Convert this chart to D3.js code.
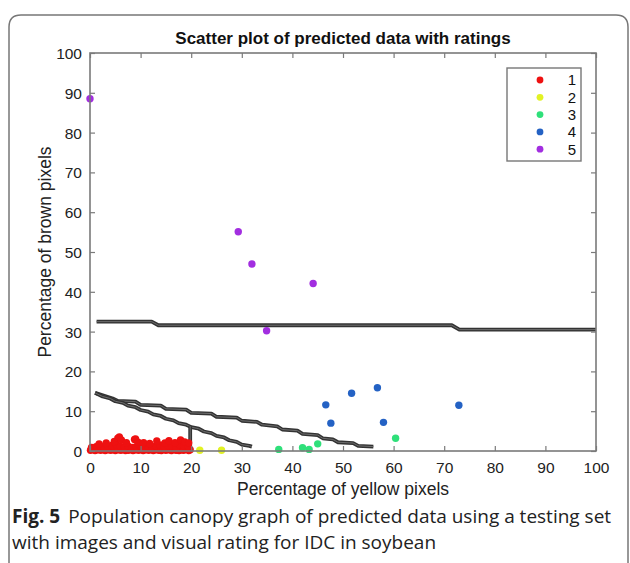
<!DOCTYPE html>
<html lang="en">
<head>
<meta charset="UTF-8">
<title>Scatter plot of predicted data with ratings</title>
<script src="https://d3js.org/d3.v7.min.js"></script>
<style>
  body { margin: 0; background: #fff; }
  svg { display: block; }
  .tick-label { font-family: "Liberation Sans", Arial, sans-serif; font-size: 15.5px; fill: #222; }
  .axis-title { font-family: "Liberation Sans", Arial, sans-serif; font-size: 17.5px; fill: #222; }
  .caption { font-family: "Open Sans", "Noto Sans", sans-serif; font-size: 19px; fill: #222; }
</style>
</head>
<body>
<svg width="630" height="563"></svg>
<script>
// ratings and their colours
const ratings = ["1", "2", "3", "4", "5"];
const ratingColors = ["#ee1111", "#e2f224", "#2fe07a", "#2462c4", "#a22ee0"];

// axis ticks
const xTicks = [0, 10, 20, 30, 40, 50, 60, 70, 80, 90, 100];
const yTicks = [0, 10, 20, 30, 40, 50, 60, 70, 80, 90, 100];

// rating 1 (dense band near the x axis)
const rating1X = [
  0.1, 0.6, 1.0, 1.5, 2.1, 2.6, 3.0, 3.6, 4.1, 4.5, 5.0, 5.6, 6.1, 6.5, 7.0, 7.6, 8.1, 8.5, 9.0, 9.6,
  10.1, 10.5, 11.0, 11.6, 12.1, 12.5, 13.0, 13.6, 14.1, 14.5, 15.0, 15.6, 16.1, 16.5, 17.0, 17.6, 18.1, 18.5, 19.0, 19.5, 19.8,
  0.3, 1.2, 2.0, 2.8, 3.5, 4.3, 5.2, 6.0, 6.8, 7.5, 8.3, 9.1, 9.9, 10.7, 11.4, 12.2, 13.0, 13.8, 14.6, 15.4,
  16.2, 17.0, 17.8, 18.6, 19.4,
  1.8, 3.2, 4.8, 5.5, 5.8, 6.2, 7.2, 8.8, 9.0, 9.5, 10.6, 11.8, 13.2, 14.8, 15.6, 16.8, 17.9, 18.7, 19.5
];
const rating1Y = [
  0.2, 0.4, 0.1, 0.3, 0.2, 0.5, 0.1, 0.3, 0.2, 0.4, 0.1, 0.3, 0.2, 0.5, 0.1, 0.2, 0.4, 0.1, 0.3, 0.2,
  0.4, 0.1, 0.3, 0.2, 0.5, 0.1, 0.3, 0.2, 0.1, 0.4, 0.2, 0.3, 0.1, 0.4, 0.2, 0.1, 0.3, 0.2, 0.4, 0.1, 0.3,
  0.9, 1.1, 1.3, 0.8, 1.2, 1.4, 1.6, 1.2, 1.0, 1.3, 0.9, 1.1, 1.4, 0.8, 1.2, 1.0, 1.3, 1.5, 1.1, 1.4,
  1.2, 0.9, 1.5, 1.3, 1.1,
  1.8, 2.0, 2.4, 3.2, 3.5, 2.8, 2.1, 2.9, 3.0, 2.2, 2.1, 1.9, 2.5, 2.0, 2.6, 2.1, 2.8, 2.3, 2.0
];

const rating2X = [21.7, 26.0];
const rating2Y = [0.2, 0.2];

const rating3X = [37.3, 42.0, 43.3, 45.0, 60.4];
const rating3Y = [0.4, 0.8, 0.4, 1.8, 3.2];

const rating4X = [46.6, 47.6, 51.7, 56.8, 58.0, 72.9];
const rating4Y = [11.6, 7.0, 14.5, 15.9, 7.2, 11.5];

const rating5X = [0.0, 29.3, 32.0, 44.1, 34.9];
const rating5Y = [88.5, 55.1, 47.0, 42.1, 30.2];

// decision boundaries (stepped)
const boundaryTopX = [1.3, 12.2, 13.5, 71.5, 73.0, 100];
const boundaryTopY = [32.5, 32.5, 31.6, 31.6, 30.5, 30.5];

const boundarySteepX = [1, 2.5, 4, 5, 6.5, 7.5, 9, 10, 11.5, 12.5, 14, 15, 16.5, 17.5, 19, 20, 21.5, 22.5, 24, 25, 26.5, 27.5, 29, 30, 31.5, 32];
const boundarySteepY = [14.6, 13.7, 13.2, 12.5, 12.1, 11.4, 11.0, 10.3, 9.9, 9.2, 8.8, 8.1, 7.7, 7.0, 6.6, 6.0, 5.6, 4.9, 4.5, 3.8, 3.4, 2.7, 2.3, 1.6, 1.3, 1.1];

const boundaryLongX = [1, 4.5, 5.5, 9, 10, 14, 15, 19, 20, 24, 25, 29, 30, 33, 34, 37, 38, 41, 42, 45, 46, 48, 49, 52, 53, 56];
const boundaryLongY = [14.6, 13.2, 12.6, 12.4, 11.6, 11.4, 10.6, 10.4, 9.6, 9.4, 8.6, 8.4, 7.6, 7.3, 6.6, 6.2, 5.4, 5.1, 4.3, 4.0, 3.2, 2.9, 2.2, 2.0, 1.3, 1.1];

const boundaryVertX = [19.8, 19.8];
const boundaryVertY = [0, 6.2];

const svg = d3.select("svg");
const margin = { left: 90, right: 34, top: 53, bottom: 112 };
const width = 630 - margin.left - margin.right;
const height = 563 - margin.top - margin.bottom;

const x = d3.scaleLinear().domain([0, 100]).range([margin.left, margin.left + width]);
const y = d3.scaleLinear().domain([0, 100]).range([margin.top + height, margin.top]);

// figure frame
svg.append("path")
    .attr("d", "M 9 600 L 9 27 Q 9 15 21 15 L 616 15 Q 628 15 628 27 L 628 600")
    .attr("fill", "none")
    .attr("stroke", "#777")
    .attr("stroke-width", 1.5);

// boundaries
const boundaries = [
    [boundaryTopX, boundaryTopY],
    [boundaryLongX, boundaryLongY],
    [boundarySteepX, boundarySteepY],
    [boundaryVertX, boundaryVertY]
];
const line = d3.line().x(d => x(d[0])).y(d => y(d[1]));
const gLines = svg.append("g");
boundaries.forEach(([bx, by]) => {
    const pts = bx.map((v, i) => [v, by[i]]);
    gLines.append("path").datum(pts).attr("d", line)
        .attr("fill", "none").attr("stroke", "#333").attr("stroke-width", 3.8)
        .attr("stroke-linejoin", "round");
    gLines.append("path").datum(pts).attr("d", line)
        .attr("fill", "none").attr("stroke", "#6e6e6e").attr("stroke-width", 1)
        .attr("stroke-linejoin", "round");
});

// points
const series = [
    [rating1X, rating1Y],
    [rating2X, rating2Y],
    [rating3X, rating3Y],
    [rating4X, rating4Y],
    [rating5X, rating5Y]
];
const gPts = svg.append("g");
series.forEach(([sx, sy], k) => {
    gPts.selectAll(null)
        .data(sx.map((v, i) => [v, sy[i]]))
        .enter().append("circle")
        .attr("cx", d => x(d[0]))
        .attr("cy", d => y(d[1]))
        .attr("r", 3.7)
        .attr("fill", ratingColors[k]);
});

// axes box, ticks inward on all sides
const axisColor = "#7a7a7a";
svg.append("rect")
    .attr("x", margin.left).attr("y", margin.top)
    .attr("width", width).attr("height", height)
    .attr("fill", "none").attr("stroke", axisColor).attr("stroke-width", 1.6);

const axisB = svg.append("g").attr("transform", `translate(0,${margin.top + height})`)
    .call(d3.axisBottom(x).tickValues(xTicks).tickSizeInner(-5).tickSizeOuter(0).tickPadding(9));
const axisT = svg.append("g").attr("transform", `translate(0,${margin.top})`)
    .call(d3.axisTop(x).tickValues(xTicks).tickSizeInner(-5).tickSizeOuter(0).tickFormat(""));
const axisL = svg.append("g").attr("transform", `translate(${margin.left},0)`)
    .call(d3.axisLeft(y).tickValues(yTicks).tickSizeInner(-5).tickSizeOuter(0).tickPadding(8));
const axisR = svg.append("g").attr("transform", `translate(${margin.left + width},0)`)
    .call(d3.axisRight(y).tickValues(yTicks).tickSizeInner(-5).tickSizeOuter(0).tickFormat(""));

[axisB, axisT, axisL, axisR].forEach(g => {
    g.select(".domain").remove();
    g.selectAll(".tick line").attr("stroke", axisColor).attr("stroke-width", 1.2);
    g.selectAll(".tick text").attr("class", "tick-label").attr("fill", "#222");
});
axisB.selectAll(".tick text").attr("dy", "0.85em");
axisL.selectAll(".tick text").attr("dy", "0.35em");

// title and axis titles
svg.append("text")
    .attr("x", margin.left + width / 2).attr("y", 44)
    .attr("text-anchor", "middle")
    .style("font-family", "'Liberation Sans', Arial, sans-serif")
    .style("font-size", "17px").style("font-weight", "bold").style("fill", "#111")
    .text("Scatter plot of predicted data with ratings");

svg.append("text")
    .attr("class", "axis-title")
    .attr("x", margin.left + width / 2).attr("y", 495)
    .attr("text-anchor", "middle")
    .text("Percentage of yellow pixels");

svg.append("text")
    .attr("class", "axis-title")
    .attr("transform", `translate(51,${margin.top + height / 2}) rotate(-90)`)
    .attr("text-anchor", "middle")
    .text("Percentage of brown pixels");

// legend
const legend = svg.append("g");
legend.append("rect")
    .attr("x", 507).attr("y", 68).attr("width", 74).attr("height", 93)
    .attr("fill", "#fff").attr("stroke", "#777").attr("stroke-width", 1.4);
ratings.forEach((r, i) => {
    const ly = 80 + i * 17.3;
    legend.append("circle").attr("cx", 540).attr("cy", ly).attr("r", 3.4).attr("fill", ratingColors[i]);
    legend.append("text")
        .attr("x", 576).attr("y", ly).attr("dy", "0.36em")
        .attr("text-anchor", "end")
        .style("font-family", "'Liberation Sans', Arial, sans-serif")
        .style("font-size", "15px").style("fill", "#111")
        .text(r);
});

// caption
const cap = svg.append("text").attr("class", "caption").attr("x", 12).attr("y", 523);
cap.append("tspan").style("font-weight", "bold").text("Fig. 5");
cap.append("tspan").attr("dx", 8).text("Population canopy graph of predicted data using a testing set");
svg.append("text").attr("class", "caption").attr("x", 12).attr("y", 549)
    .text("with images and visual rating for IDC in soybean");
</script>
</body>
</html>
